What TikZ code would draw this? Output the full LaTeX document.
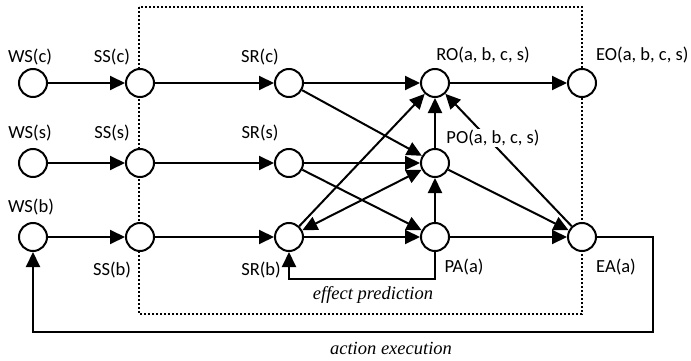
\documentclass[tikz,border=0pt]{standalone}
\usepackage{fontspec}
\setmainfont{Carlito}
\newfontfamily\tnr{Liberation Serif}
\usetikzlibrary{arrows.meta}
\tikzset{
  st/.style={circle,draw,fill=white,line width=2pt,minimum size=28pt,inner sep=0pt},
  lbl/.style={inner sep=0pt,font=\fontsize{18.5}{20}\selectfont},
  ilbl/.style={inner sep=0pt,font=\fontsize{18.5}{20}\selectfont\tnr\itshape},
  arr/.style={line width=2pt,-{Triangle[length=15pt,width=14pt]}},
  darr/.style={line width=2pt,{Triangle[length=15pt,width=14pt]}-{Triangle[length=15pt,width=14pt]}},
  box/.style={line width=2.6pt,dash pattern=on 2.2pt off 1.8pt}
}
\begin{document}
\begin{tikzpicture}[x=1pt,y=-1pt]
\useasboundingbox (0,0) rectangle (691,361);
% dotted region
\draw[box] (139,7) rectangle (582,314);
% nodes
\node[st] (WSc) at (33,83) {};
\node[st] (SSc) at (140,83) {};
\node[st] (SRc) at (289,83) {};
\node[st] (RO) at (435,83) {};
\node[st] (EO) at (582,83) {};
\node[st] (WSs) at (33,163) {};
\node[st] (SSs) at (140,163) {};
\node[st] (SRs) at (289,163) {};
\node[st] (PO) at (435,163) {};
\node[st] (WSb) at (33,237) {};
\node[st] (SSb) at (140,237) {};
\node[st] (SRb) at (289,237) {};
\node[st] (PA) at (435,237) {};
\node[st] (EA) at (582,237) {};
\coordinate (ep) at (289,279);
\coordinate (ae) at (653,332);
% edges
\draw[arr] (WSc) -- (SSc);
\draw[arr] (SSc) -- (SRc);
\draw[arr] (SRc) -- (RO);
\draw[arr] (RO) -- (EO);
\draw[arr] (WSs) -- (SSs);
\draw[arr] (SSs) -- (SRs);
\draw[arr] (SRs) -- (PO);
\draw[arr] (WSb) -- (SSb);
\draw[arr] (SSb) -- (SRb);
\draw[arr] (SRb) -- (PA);
\draw[arr] (PA) -- (EA);
\draw[arr] (SRc) -- (PO);
\draw[arr] (SRs) -- (PA);
\draw[arr] (SRb) -- (RO);
\draw[darr] (SRb) -- (PO);
\draw[arr] (PO) -- (RO);
\draw[arr] (PA) -- (PO);
\draw[arr] (PO) -- (EA);
\draw[arr] (EA) -- (RO);
\draw[arr] (PA.south) -- (PA.south |- ep) -| (SRb.south);
\draw[arr] (EA.east) -- (EA.east -| ae) -- (ae) -| (WSb.south);
% labels
\node[lbl] (lWSc) at (30,57) {WS(c)};
\node[lbl] (lSSc) at (112,57) {SS(c)};
\node[lbl] (lSRc) at (260,57) {SR(c)};
\node[lbl] (lRO) at (483,55) {RO(a, b, c, s)};
\node[lbl,anchor=west] (lEO) at (596,55) {EO(a, b, c, s)};
\node[lbl] (lWSs) at (30,133) {WS(s)};
\node[lbl] (lSSs) at (112,133) {SS(s)};
\node[lbl] (lSRs) at (260,133) {SR(s)};
\node[lbl,fill=white,inner sep=1pt] (lPO) at (493,138) {PO(a, b, c, s)};
\node[lbl] (lWSb) at (31,207) {WS(b)};
\node[lbl] (lSSb) at (112,270) {SS(b)};
\node[lbl] (lSRb) at (261,270) {SR(b)};
\node[lbl] (lPA) at (464,267) {PA(a)};
\node[lbl] (lEA) at (616,267) {EA(a)};
\node[ilbl] (lep) at (373,295) {effect prediction};
\node[ilbl] (lae) at (391,348) {action execution};
\end{tikzpicture}
\end{document}
